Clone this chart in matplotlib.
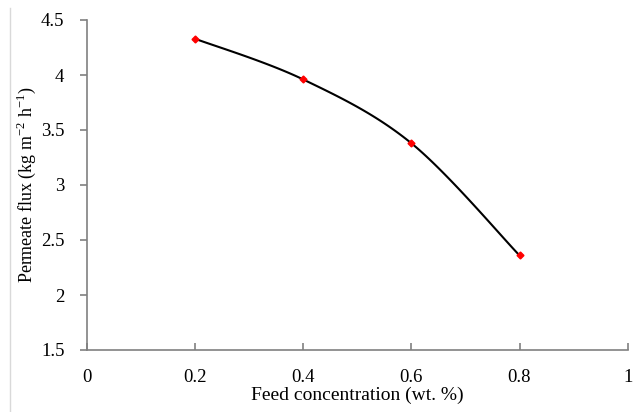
import numpy as np
import matplotlib
matplotlib.use('Agg')
import matplotlib.pyplot as plt

# data
conc = [0.2, 0.4, 0.6, 0.8]
flux = [4.33, 3.96, 3.38, 2.36]
x_ticks = [0, 0.2, 0.4, 0.6, 0.8, 1]
y_ticks = [1.5, 2, 2.5, 3, 3.5, 4, 4.5]

plt.rcParams['font.family'] = ['Liberation Serif', 'DejaVu Serif']
plt.rcParams['mathtext.fontset'] = 'custom'
plt.rcParams['mathtext.rm'] = 'Liberation Serif'


def smooth(xs, ys, n=40):
    # Excel-style smoothed line (Catmull-Rom through the points)
    px = [xs[0]] + list(xs) + [xs[-1]]
    py = [ys[0]] + list(ys) + [ys[-1]]
    ox, oy = [], []
    t = np.linspace(0, 1, n)
    for i in range(1, len(px) - 2):
        p0, p1, p2, p3 = [np.array([px[j], py[j]]) for j in range(i - 1, i + 3)]
        c1 = p1 + (p2 - p0) / 6
        c2 = p2 - (p3 - p1) / 6
        for tt in t:
            b = ((1 - tt) ** 3) * p1 + 3 * ((1 - tt) ** 2) * tt * c1 + 3 * (1 - tt) * tt ** 2 * c2 + tt ** 3 * p2
            ox.append(b[0])
            oy.append(b[1])
    return ox, oy


fig = plt.figure(figsize=(6.37, 4.12), dpi=100)
ax = fig.add_axes([86.7 / 637, 1 - 350 / 412, (627.7 - 86.7) / 637, (350 - 20) / 412])

sx, sy = smooth(conc, flux)
ax.plot(sx, sy, color='black', lw=1.5, zorder=2)
ax.plot(conc, flux, ls='none', marker='D', ms=3.5, color='red', zorder=3)

ax.set_xlim(0, 1)
ax.set_ylim(1.5, 4.5)
ax.set_xticks(x_ticks)
ax.set_xticklabels([f'{v:g}' for v in x_ticks], fontsize=13.5)
ax.set_yticks(y_ticks)
ax.set_yticklabels([f'{v:g}' for v in y_ticks], fontsize=13.5)

for s in ['top', 'right']:
    ax.spines[s].set_visible(False)
for s in ['left', 'bottom']:
    ax.spines[s].set_color('#808080')
    ax.spines[s].set_linewidth(1.2)

ax.tick_params(axis='x', direction='in', length=5, color='#808080', width=1.2, pad=14)
ax.tick_params(axis='y', direction='out', length=5, color='#808080', width=1.2, pad=11)

ax.set_xlabel('Feed concentration (wt. %)', fontsize=14, labelpad=0)
ax.set_ylabel('Permeate flux (kg m$^{-2}$ h$^{-1}$)', fontsize=13, labelpad=2)

fig.add_artist(plt.Line2D([10 / 637, 10 / 637], [0, 1 - 8 / 412], color='#d9d9d9', lw=1))

fig.savefig('out.png', dpi=100)
